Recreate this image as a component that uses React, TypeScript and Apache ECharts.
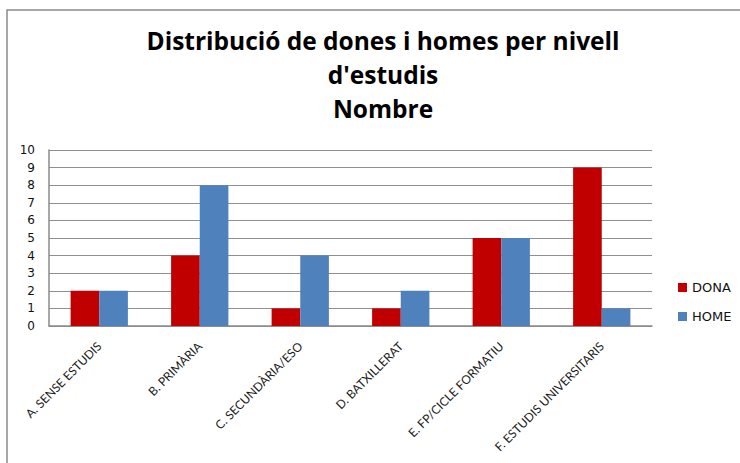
import React, { useEffect, useRef } from "react";
import * as echarts from "echarts";

const categories = [
  "A. SENSE ESTUDIS",
  "B. PRIMÀRIA",
  "C. SECUNDÀRIA/ESO",
  "D. BATXILLERAT",
  "E. FP/CICLE FORMATIU",
  "F. ESTUDIS UNIVERSITARIS",
];
const dona = [2, 4, 1, 1, 5, 9];
const home = [2, 8, 4, 2, 5, 1];
const titleText = "Distribució de dones i homes per nivell\nd'estudis\nNombre";

export default function App() {
  const ref = useRef<HTMLDivElement>(null);
  useEffect(() => {
    const chart = echarts.init(ref.current!, null, { renderer: "svg" });
    chart.setOption({
      animation: false,
      backgroundColor: "#ffffff",
      title: {
        text: titleText,
        left: 378,
        top: 18,
        textAlign: "center",
        textStyle: {
          fontFamily: "Open Sans",
          fontWeight: "bold",
          fontSize: 24.5,
          lineHeight: 34,
          color: "#000",
        },
      },
      graphic: [
        {
          type: "rect",
          shape: { x: 7, y: 10, width: 800, height: 600 },
          style: { fill: "none", stroke: "#8a8a8a", lineWidth: 1.5 },
          silent: true,
          z: -1,
        },
      ],
      legend: {
        orient: "vertical",
        left: 673,
        top: 276,
        itemWidth: 9,
        itemHeight: 9,
        itemGap: 16,
        icon: "rect",
        textStyle: { fontFamily: "DejaVu Sans", fontSize: 13, color: "#111" },
        data: ["DONA", "HOME"],
      },
      grid: { left: 49, right: 88, top: 150, bottom: 137, containLabel: false },
      xAxis: {
        type: "category",
        data: categories,
        axisLine: { show: true, lineStyle: { color: "#8a8a8a", width: 1.5 } },
        axisTick: { show: false },
        axisLabel: {
          interval: 0,
          rotate: 45,
          margin: 18,
          fontFamily: "Lato",
          fontSize: 12,
          color: "#1a1a1a",
        },
      },
      yAxis: {
        type: "value",
        min: 0,
        max: 10,
        interval: 1,
        axisLine: { show: true, lineStyle: { color: "#8a8a8a", width: 1.5 } },
        axisTick: { show: false },
        splitLine: { lineStyle: { color: "#8f8f8f", width: 1.2 } },
        axisLabel: { fontFamily: "DejaVu Sans", fontSize: 12, color: "#111", margin: 14 },
      },
      series: [
        {
          name: "DONA",
          type: "bar",
          data: dona,
          barGap: "0%",
          barCategoryGap: "43%",
          itemStyle: { color: "#C00000" },
        },
        {
          name: "HOME",
          type: "bar",
          data: home,
          itemStyle: { color: "#4F81BD" },
        },
      ],
    });
    return () => chart.dispose();
  }, []);
  return (
    <div
      ref={ref}
      style={{ position: "absolute", left: 0, top: 0, width: 740, height: 463 }}
    />
  );
}
